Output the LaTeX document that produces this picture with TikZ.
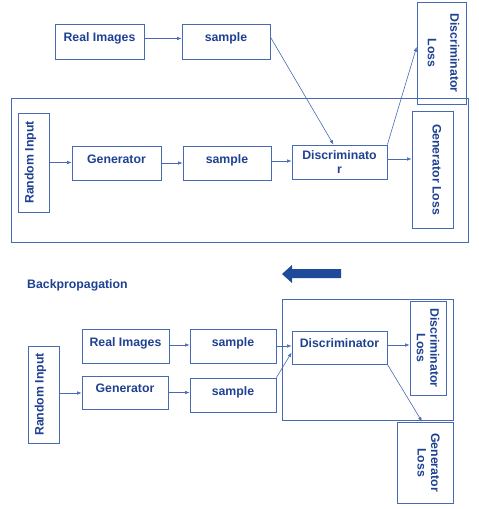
\documentclass[tikz,border=0pt]{standalone}
\usepackage{fontspec}
\setmainfont{Liberation Sans}
\usetikzlibrary{arrows.meta}
\definecolor{boxc}{RGB}{72,106,180}
\definecolor{textc}{RGB}{31,65,145}
\definecolor{bigc}{RGB}{31,74,153}
\tikzset{
  lbl/.style={text=textc, font=\bfseries\fontsize{12.3}{13.5}\selectfont},
  box/.style={lbl, draw=boxc, line width=0.8pt, inner sep=0pt, text height=8pt, text depth=8pt},
  mbox/.style={lbl, draw=boxc, line width=0.8pt, inner sep=0pt, align=center},
  frame/.style={draw=boxc, line width=0.8pt, inner sep=0pt},
  arr/.style={draw=boxc, line width=0.6pt, -{Latex[length=4.5pt,width=3.5pt]}}
}
\begin{document}
\begin{tikzpicture}[x=1pt,y=-1pt]
\useasboundingbox (0,0) rectangle (479,509);
% ---------- top ----------
\node[frame, minimum width=457pt, minimum height=144pt] (f1) at (239.5,170) {};
\node[box, minimum width=89pt, minimum height=35pt] (ri1) at (99.5,41.5) {Real Images};
\node[box, minimum width=88pt, minimum height=35pt] (s1) at (226,41.5) {sample};
\node[frame, rotate=-90, minimum width=102pt, minimum height=49pt] (dl1) at (441.5,53) {};
\node[lbl, rotate=-90, align=center, inner sep=0pt] (dl1t) at (443.5,53) {Discriminator\\[9pt]Loss};
\node[box, rotate=90, minimum width=99pt, minimum height=31pt] (rin1) at (33.5,162.5) {Random Input};
\node[box, minimum width=89pt, minimum height=34pt] (g1) at (116.5,163) {Generator};
\node[box, minimum width=88pt, minimum height=34pt] (s2) at (227,163) {sample};
\node[mbox, minimum width=95pt, minimum height=34pt] (d1) at (339.5,162) {Discriminato\\r};
\node[box, rotate=-90, minimum width=117pt, minimum height=41pt] (gl1) at (432.5,169.5) {Generator Loss};
\draw[arr] ([yshift=3pt]ri1.east) -- ([yshift=3pt]s1.west);
\draw[arr] ([yshift=4.5pt]s1.east) -- ([xshift=-6pt]d1.north);
\draw[arr] (d1.north east) -- ([yshift=6pt]dl1.south);
\draw[arr] (rin1.south) -- (rin1.south -| g1.west);
\draw[arr] (g1.east) -- (g1.east -| s2.west);
\draw[arr] ([yshift=2pt]s2.east) -- ([yshift=2pt]s2.east -| d1.west);
\draw[arr] ([yshift=3pt]d1.east) -- ([yshift=3pt]d1.east -| gl1.south);
% ---------- bottom ----------
\fill[bigc] (341,269) -- (292,269) -- (292,265) -- (282,274) -- (292,283) -- (292,278) -- (341,278) -- cycle;
\node[lbl, anchor=west, inner sep=0pt] (bp) at (27,285) {Backpropagation};
\node[frame, minimum width=171pt, minimum height=121pt] (f2) at (367.5,359.5) {};
\node[box, minimum width=87pt, minimum height=34pt] (ri2) at (125.5,346) {Real Images};
\node[box, minimum width=86pt, minimum height=34pt] (s3) at (233,346) {sample};
\node[box, minimum width=95pt, minimum height=33pt] (d2) at (339.5,347.5) {Discriminator};
\node[mbox, rotate=-90, minimum width=94pt, minimum height=36pt] (dl2) at (428,348) {Discriminator\\Loss};
\node[box, rotate=90, minimum width=97pt, minimum height=31pt] (rin2) at (43.5,394.5) {Random Input};
\node[box, minimum width=86pt, minimum height=33pt] (g2) at (125,392.5) {Generator};
\node[box, minimum width=86pt, minimum height=34pt] (s4) at (233,395) {sample};
\node[frame, rotate=-90, minimum width=81pt, minimum height=56pt] (gl2) at (425,462.5) {};
\node[lbl, rotate=-90, align=center, inner sep=0pt] (gl2t) at (428.5,462.5) {Generator\\Loss};
\draw[arr] ([yshift=1pt]ri2.east) -- ([yshift=1pt]ri2.east -| s3.west);
\draw[arr] (s3.east) -- (s3.east -| d2.west);
\draw[arr] (s4.north east) -- ([yshift=-5pt]d2.west);
\draw[arr] ([yshift=1.5pt]rin2.south) -- ([yshift=1.5pt]rin2.south -| g2.west);
\draw[arr] (g2.east) -- (g2.east -| s4.west);
\draw[arr] ([yshift=2.5pt]d2.east) -- ([yshift=2.5pt]d2.east -| dl2.south);
\draw[arr] (d2.south east) -- ([xshift=-3pt]gl2.west);
\end{tikzpicture}
\end{document}
